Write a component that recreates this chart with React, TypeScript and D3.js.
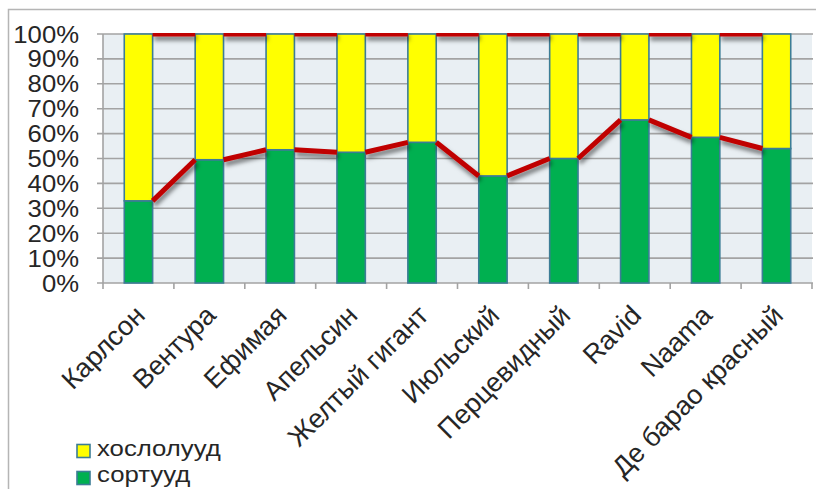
import React from "react";
import * as d3 from "d3";

const categories = [
  "Карлсон",
  "Вентура",
  "Ефимая",
  "Апельсин",
  "Желтый гигант",
  "Июльский",
  "Перцевидный",
  "Ravid",
  "Naama",
  "Де барао красный",
];
const sortuud = [33, 49.5, 53.5, 52.5, 56.5, 43, 50, 65.5, 58.5, 54];
const hoslol = [67, 50.5, 46.5, 47.5, 43.5, 57, 50, 34.5, 41.5, 46];
const yTicks = [0, 10, 20, 30, 40, 50, 60, 70, 80, 90, 100];
const legendItems = [
  { label: "хослолууд", color: "#FFFF00" },
  { label: "сортууд", color: "#00B050" },
];

const W = 816;
const H = 489;
const plotLeft = 103;
const plotRight = 812;
const plotTop = 34;
const plotBottom = 283;
const FONT = "'Liberation Sans', Arial, sans-serif";
const SX = 1.07;
const TXT = "#262626";

export default function App() {
  const x = d3
    .scaleBand<string>()
    .domain(categories)
    .range([plotLeft, plotRight])
    .paddingInner(0.6)
    .paddingOuter(0.3);
  const cell = d3.scaleBand<string>().domain(categories).range([plotLeft, plotRight]);
  const y = d3.scaleLinear().domain([0, 100]).range([plotBottom, plotTop]);
  const bw = x.bandwidth();

  const stacked = categories.map((c, i) => {
    const g = sortuud[i];
    const total = g + hoslol[i];
    return { c, g: (g / total) * 100, t: 100 };
  });

  const segLines: { x1: number; y1: number; x2: number; y2: number }[] = [];
  for (let i = 0; i < stacked.length - 1; i++) {
    const a = stacked[i];
    const b = stacked[i + 1];
    const xa = (x(a.c) as number) + bw;
    const xb = x(b.c) as number;
    segLines.push({ x1: xa, y1: y(a.g), x2: xb, y2: y(b.g) });
    segLines.push({ x1: xa, y1: y(a.t), x2: xb, y2: y(b.t) });
  }

  return (
    <svg
      width={W}
      height={H}
      style={{ position: "fixed", left: 0, top: 0, background: "#fff" }}
      fontFamily={FONT}
    >
      <defs>
        <filter id="shadow" x="-20%" y="-50%" width="140%" height="300%">
          <feDropShadow dx="1.5" dy="4" stdDeviation="2.2" floodColor="#000" floodOpacity="0.5" />
        </filter>
        <clipPath id="plotclip">
          <rect x={plotLeft} y={plotTop - 1} width={plotRight - plotLeft + 2} height={plotBottom - plotTop + 10} />
        </clipPath>
      </defs>

      {/* chart border */}
      <path d={`M8.5,${H} L8.5,9.5 L${W},9.5`} fill="none" stroke="#B5B5B5" strokeWidth={1.5} />

      {/* plot background */}
      <rect
        x={plotLeft}
        y={plotTop}
        width={plotRight - plotLeft}
        height={plotBottom - plotTop}
        fill="#E9EFF3"
      />

      {/* gridlines */}
      {yTicks.map((t) => (
        <line
          key={"g" + t}
          x1={plotLeft - 6}
          x2={plotRight + 1}
          y1={y(t)}
          y2={y(t)}
          stroke="#A3A3A3"
          strokeWidth={1.6}
        />
      ))}
      {/* y axis */}
      <line x1={plotLeft} x2={plotLeft} y1={plotTop} y2={plotBottom + 6} stroke="#A3A3A3" strokeWidth={1.6} />
      {/* x ticks */}
      {categories.map((c) => (
        <line
          key={"xt" + c}
          x1={(cell(c) as number) + cell.bandwidth()}
          x2={(cell(c) as number) + cell.bandwidth()}
          y1={plotBottom}
          y2={plotBottom + 6}
          stroke="#A3A3A3"
          strokeWidth={1.6}
        />
      ))}

      {/* y tick labels */}
      {yTicks.map((t) => (
        <text
          key={"yl" + t}
          transform={`translate(79,${y(t) + 8.5}) scale(${SX},1)`}
          textAnchor="end"
          fontSize={24}
          fill={TXT}
        >
          {t}%
        </text>
      ))}

      {/* bars */}
      {stacked.map((d) => (
        <g key={"b" + d.c}>
          <rect
            x={x(d.c)}
            y={y(d.g)}
            width={bw}
            height={y(0) - y(d.g)}
            fill="#00B050"
            stroke="#3C7D96"
            strokeWidth={1.6}
          />
          <rect
            x={x(d.c)}
            y={y(d.t)}
            width={bw}
            height={y(d.g) - y(d.t)}
            fill="#FFFF00"
            stroke="#3C7D96"
            strokeWidth={1.6}
          />
        </g>
      ))}

      {/* series lines */}
      <g clipPath="url(#plotclip)">
        <g filter="url(#shadow)">
          {segLines.map((s, i) => (
            <line
              key={"s" + i}
              x1={s.x1}
              y1={s.y1}
              x2={s.x2}
              y2={s.y2}
              stroke="#C00000"
              strokeWidth={5}
            />
          ))}
        </g>
      </g>

      {/* x labels */}
      {categories.map((c) => {
        const cx = (cell(c) as number) + cell.bandwidth() / 2;
        return (
          <text
            key={"xl" + c}
            transform={`translate(${cx + 8},${317}) rotate(-45)`}
            textAnchor="end"
            fontSize={27}
            fill={TXT}
          >
            {c}
          </text>
        );
      })}

      {/* legend */}
      {legendItems.map((it, i) => (
        <g key={"lg" + i}>
          <rect
            x={77}
            y={444.5 + i * 27}
            width={13}
            height={13}
            fill={it.color}
            stroke="#3C7D96"
            strokeWidth={1.6}
          />
          <text
            transform={`translate(97,${456 + i * 26}) scale(1.12,1)`}
            fontSize={23}
            fill={TXT}
          >
            {it.label}
          </text>
        </g>
      ))}
    </svg>
  );
}
